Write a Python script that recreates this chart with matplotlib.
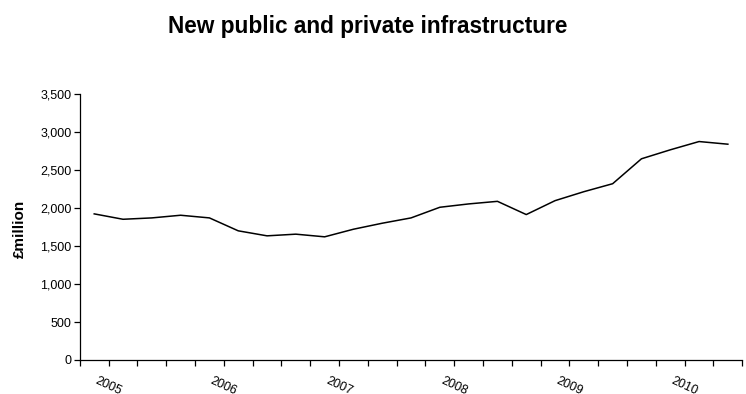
import matplotlib.pyplot as plt
import matplotlib.transforms as mtransforms
from matplotlib.ticker import FuncFormatter, FixedLocator

plt.rcParams['font.family'] = ['Liberation Sans', 'DejaVu Sans']

# quarterly values, 2005 Q1 onwards
quarters = list(range(23))
values = [1923, 1852, 1870, 1905, 1870, 1700, 1634, 1656, 1621, 1721, 1800, 1870,
          2010, 2054, 2088, 1914, 2097, 2215, 2320, 2648, 2766, 2875, 2840]
years = ['2005', '2006', '2007', '2008', '2009', '2010']
year_pos = [0, 4, 8, 12, 16, 20]

fig = plt.figure(figsize=(7.46, 3.94), dpi=100)
ax = fig.add_axes([0.107, 0.0863, 0.888, 0.675])

ax.plot(quarters, values, color='black', linewidth=1.1)

ax.set_xlim(-0.5, 22.5)
ax.set_ylim(0, 3500)
ax.set_yticks(range(0, 3501, 500))
ax.yaxis.set_major_formatter(FuncFormatter(lambda v, p: '{:,}'.format(int(v))))
ax.xaxis.set_major_locator(FixedLocator([q - 0.5 for q in range(24)]))
ax.set_xticklabels([])

for side in ['top', 'right']:
    ax.spines[side].set_visible(False)
for side in ['left', 'bottom']:
    ax.spines[side].set_linewidth(0.9)
ax.tick_params(axis='both', direction='out', length=4, width=0.9, labelsize=9, pad=2)

# slanted year labels under the first quarter of each year
trans = ax.get_xaxis_transform() + mtransforms.ScaledTranslation(3 / 72, -11 / 72, fig.dpi_scale_trans)
for pos, yr in zip(year_pos, years):
    ax.text(pos, 0, yr, transform=trans, rotation=-25, rotation_mode='anchor',
            ha='left', va='top', fontsize=9)

fig.text(0.027, 0.42, '£million', rotation=90, ha='center', va='center',
         fontsize=11, fontweight='bold')
fig.text(0.493, 0.932, 'New public and private infrastructure', ha='center', va='center',
         fontsize=16.3, fontweight='bold')

fig.savefig('out.png', dpi=100)
